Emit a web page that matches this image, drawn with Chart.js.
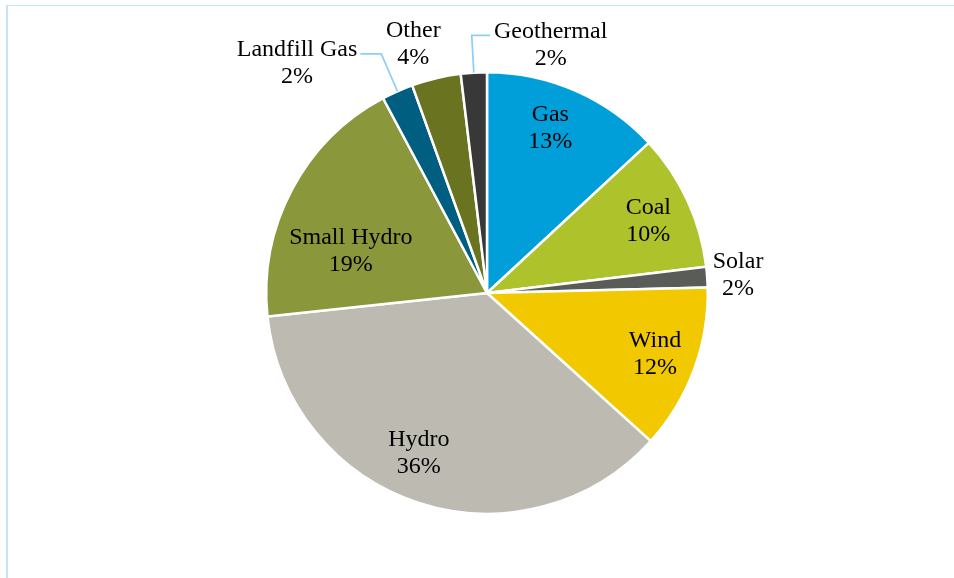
<!DOCTYPE html>
<html>
<head>
  <title>Generation Mix</title>
  <script src="https://cdn.jsdelivr.net/npm/chart.js"></script>
  <style>
    html, body { margin: 0; padding: 0; background: #ffffff; }
    #wrap { width: 954px; height: 578px; position: relative; }
  </style>
</head>
<body>
  <div id="wrap"><canvas id="mixChart" width="954" height="578"></canvas></div>

  <script>
    // Share of generation (clockwise from 12 o'clock)
    const sources = ['Gas', 'Coal', 'Solar', 'Wind', 'Hydro', 'Small Hydro', 'Landfill Gas', 'Other', 'Geothermal'];
    const shares = [13.1, 10.0, 1.5, 12.1, 36.6, 18.9, 2.3, 3.6, 1.9];
    const pctLabels = ['13%', '10%', '2%', '12%', '36%', '19%', '2%', '4%', '2%'];
    const sliceColors = ['#009fda', '#aec22c', '#5a5c58', '#f2c800', '#bdbab2', '#8a973b', '#005f80', '#6a7420', '#383838'];

    // where each label sits: angle (deg clockwise from top) and distance as a fraction of the radius
    const labelSpots = [
      { a: 21, r: 0.80 },
      { a: 66, r: 0.80 },
      { a: 86, r: 1.14 },
      { a: 110, r: 0.81 },
      { a: 203, r: 0.79 },
      { a: 287, r: 0.645 },
      { a: 320.4, r: 1.35, leader: { r: 1.18, side: 'left' } },
      { a: 343.5, r: 1.175 },
      { a: 14.4, r: 1.16, leader: { r: 1.16, side: 'right' } }
    ];

    const frame = {
      id: 'frame',
      beforeDraw(chart) {
        const ctx = chart.ctx;
        ctx.save();
        ctx.fillStyle = '#c6e3f8';
        ctx.fillRect(6, 5, 948, 1);
        ctx.fillRect(6, 5, 2, 573);
        ctx.restore();
      }
    };

    const sliceLabels = {
      id: 'sliceLabels',
      afterDatasetsDraw(chart) {
        const ctx = chart.ctx;
        const arcs = chart.getDatasetMeta(0).data;
        const lineH = 27;
        ctx.save();
        ctx.font = '24px "Liberation Serif", serif';
        ctx.fillStyle = '#000000';
        ctx.textAlign = 'center';
        ctx.textBaseline = 'middle';
        arcs.forEach((arc, i) => {
          const spot = labelSpots[i];
          const cx = arc.x, cy = arc.y, R = arc.outerRadius;
          const ang = spot.a * Math.PI / 180;
          const lx = cx + Math.sin(ang) * R * spot.r;
          const ly = cy - Math.cos(ang) * R * spot.r;
          const top = sources[i];
          const bottom = pctLabels[i];

          if (spot.leader) {
            const mid = (arc.startAngle + arc.endAngle) / 2;
            const sx = cx + Math.cos(mid) * R;
            const sy = cy + Math.sin(mid) * R;
            const ex = cx + Math.cos(mid) * R * spot.leader.r;
            const ey = ly - lineH / 2 + 4;
            const w = ctx.measureText(top).width;
            const hx = spot.leader.side === 'left' ? lx + w / 2 + 3 : lx - w / 2 - 4;
            ctx.strokeStyle = '#8ad0f7';
            ctx.lineWidth = 1.75;
            ctx.beginPath();
            ctx.moveTo(sx, sy);
            ctx.lineTo(ex, ey);
            ctx.lineTo(hx, ey);
            ctx.stroke();
          }

          ctx.fillText(top, lx, ly - lineH / 2);
          ctx.fillText(bottom, lx, ly + lineH / 2);
        });
        ctx.restore();
      }
    };

    const ctx = document.getElementById('mixChart').getContext('2d');
    new Chart(ctx, {
      type: 'pie',
      data: {
        labels: sources,
        datasets: [{
          data: shares,
          backgroundColor: sliceColors,
          borderColor: '#ffffff',
          borderWidth: 2.5
        }]
      },
      options: {
        responsive: false,
        animation: false,
        layout: {
          padding: { top: 71, bottom: 63, left: 265, right: 245 }
        },
        plugins: {
          legend: { display: false },
          tooltip: { enabled: false }
        }
      },
      plugins: [frame, sliceLabels]
    });
  </script>
</body>
</html>
